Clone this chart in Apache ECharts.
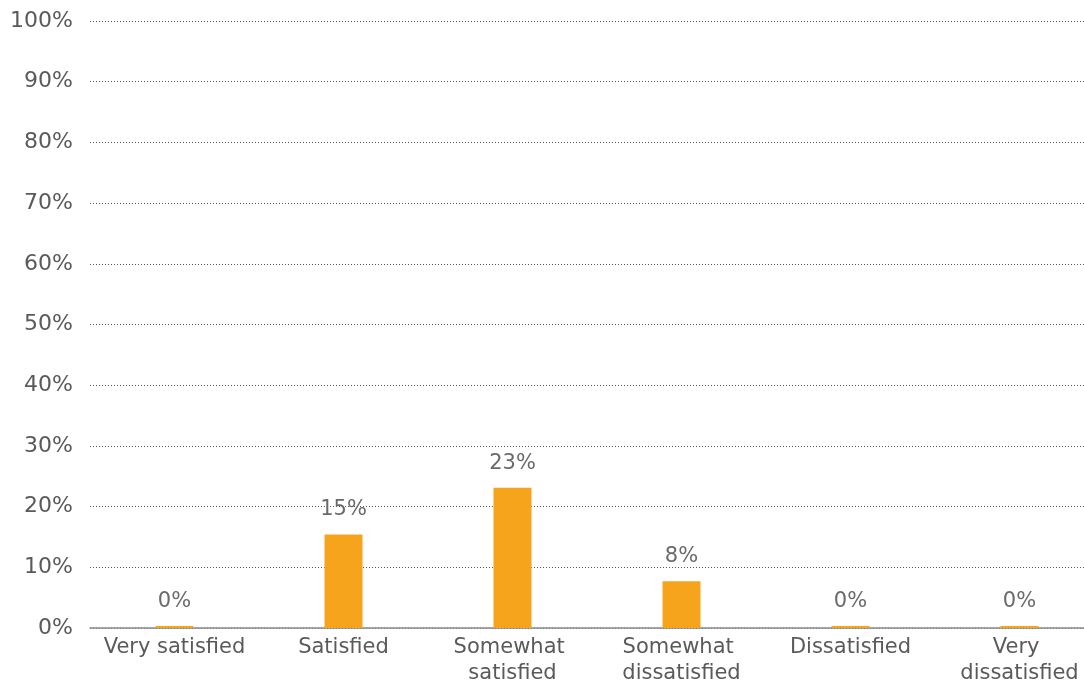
<!DOCTYPE html>
<html>
<head>
<meta charset="utf-8">
<script src="https://cdn.jsdelivr.net/npm/echarts@6/dist/echarts.min.js"></script>
<style>html,body{margin:0;padding:0;background:#fff;}#c{width:1084px;height:689px;}</style>
</head>
<body>
<div id="c"></div>
<script>
var categories = ['Very satisfied', 'Satisfied', 'Somewhat satisfied', 'Somewhat dissatisfied', 'Dissatisfied', 'Very dissatisfied'];
var values = [0, 15.4, 23.1, 7.7, 0, 0];
var yTicks = [0, 10, 20, 30, 40, 50, 60, 70, 80, 90, 100];

var chart = echarts.init(document.getElementById('c'), null, {renderer: 'canvas'});
var font = 'DejaVu Sans';
chart.setOption({
  animation: false,
  backgroundColor: '#ffffff',
  grid: {left: 90, top: 21, width: 1014, height: 607, outerBoundsMode: 'none', containLabel: false},
  xAxis: {
    type: 'category',
    data: categories,
    axisLine: {show: true, lineStyle: {color: '#8a8a8a', width: 1.5}},
    axisTick: {show: false},
    axisLabel: {
      fontFamily: font, fontSize: 21, color: '#5a5a5a', margin: 7,
      lineHeight: 26, width: 160, overflow: 'break', interval: 0
    }
  },
  yAxis: {
    type: 'value',
    min: yTicks[0],
    max: yTicks[yTicks.length - 1],
    interval: 10,
    axisLine: {show: false},
    axisTick: {show: false},
    axisLabel: {
      fontFamily: font, fontSize: 22, color: '#5a5a5a', margin: 17,
      formatter: function (v) { return v + '%'; }
    },
    splitLine: {show: true, lineStyle: {color: '#555555', width: 1, type: [1, 2]}}
  },
  series: [{
    type: 'bar',
    data: values,
    barWidth: 38,
    barMinHeight: 2,
    itemStyle: {color: '#F6A41C'},
    label: {
      show: true, position: 'top', distance: 14,
      fontFamily: font, fontSize: 21, color: '#6a6a6a',
      formatter: function (p) { return Math.round(p.value) + '%'; }
    }
  }]
});
</script>
</body>
</html>
